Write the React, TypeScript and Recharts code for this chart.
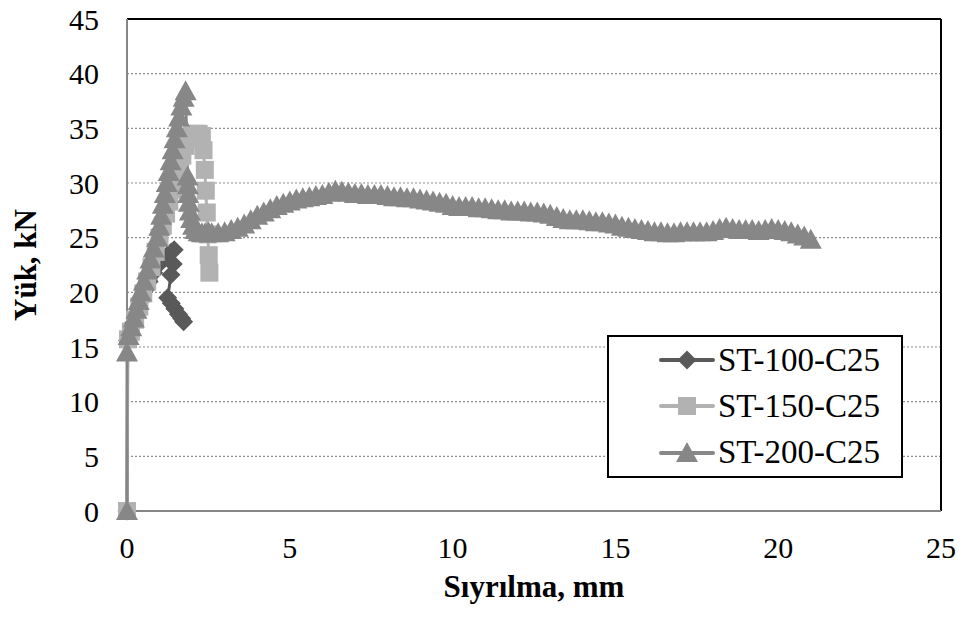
import React from "react";
import {
  LineChart,
  Line,
  XAxis,
  YAxis,
  CartesianGrid,
  Legend,
  ReferenceLine,
  Label,
} from "recharts";

const FONT = '"Liberation Serif", "Times New Roman", serif';

// ST-100-C25 (dark, diamonds)
const st100X = [0, 0.02, 0.1, 0.2, 0.3, 0.42, 0.55, 0.68, 0.82, 0.96, 1.1, 1.24, 1.36, 1.45, 1.42, 1.35, 1.25, 1.36, 1.47, 1.58, 1.68, 1.74];
const st100Y = [0, 15.6, 16.3, 17.2, 18.1, 19.2, 20.2, 21.0, 21.8, 22.5, 23.0, 23.4, 23.7, 23.9, 22.6, 21.6, 19.5, 19.0, 18.5, 18.0, 17.6, 17.3];

// ST-150-C25 (light, squares)
const st150X = [0, 0.03, 0.12, 0.25, 0.38, 0.5, 0.62, 0.75, 0.88, 1.0, 1.1, 1.2, 1.3, 1.4, 1.5, 1.6, 1.7, 1.8, 1.9, 2.0, 2.1, 2.2, 2.3, 2.35, 2.39, 2.42, 2.45, 2.48, 2.51, 2.53];
const st150Y = [0, 15.7, 16.4, 17.5, 18.7, 19.9, 21.0, 22.3, 23.7, 25.0, 26.1, 27.2, 28.3, 29.4, 30.5, 31.5, 32.5, 33.4, 34.1, 34.4, 34.5, 34.5, 34.3, 33.0, 31.2, 29.3, 27.3, 25.3, 23.4, 21.8];

// ST-200-C25 (medium, triangles): rise, drop after the peak, then the long plateau
const st200X = [
  0, 0, 0.05, 0.13, 0.21, 0.29, 0.36, 0.42, 0.52, 0.62, 0.72, 0.82, 0.93, 0.99, 1.05, 1.1, 1.16, 1.22, 1.28, 1.34, 1.4, 1.46, 1.53, 1.6, 1.67, 1.74, 1.8,
  1.86, 1.87, 1.88, 1.9, 1.93, 1.97, 2.03, 2.1, 2.2, 2.3, 2.4, 2.5,
  2.6, 2.8, 3.0, 3.2, 3.4, 3.6, 3.8, 4.0, 4.2, 4.4,
  4.6, 4.8, 5.0, 5.2, 5.4, 5.6, 5.8, 6.0, 6.2, 6.4,
  6.6, 6.8, 7.0, 7.2, 7.4, 7.6, 7.8, 8.0, 8.2, 8.4,
  8.6, 8.8, 9.0, 9.2, 9.4, 9.6, 9.8, 10.0, 10.2, 10.4,
  10.6, 10.8, 11.0, 11.2, 11.4, 11.6, 11.8, 12.0, 12.2, 12.4,
  12.6, 12.8, 13.0, 13.2, 13.4, 13.6, 13.8, 14.0, 14.2, 14.4,
  14.6, 14.8, 15.0, 15.2, 15.4, 15.6, 15.8, 16.0, 16.2, 16.4,
  16.6, 16.8, 17.0, 17.2, 17.4, 17.6, 17.8, 18.0, 18.2, 18.4,
  18.6, 18.8, 19.0, 19.2, 19.4, 19.6, 19.8, 20.0, 20.2, 20.4,
  20.6, 20.8, 21.0,
];
const st200Y = [
  0, 14.5, 16.0, 16.8, 17.6, 18.4, 19.2, 20.0, 21.0, 22.0, 23.0, 24.0, 25.0, 26.0, 27.0, 28.0, 29.0, 30.0, 31.0, 32.0, 33.0, 34.0, 35.0, 36.0, 37.0, 37.8, 38.4,
  30.6, 29.8, 29.0, 28.2, 27.4, 26.7, 26.1, 25.7, 25.5, 25.4, 25.4, 25.5,
  25.4, 25.4, 25.5, 25.7, 25.9, 26.2, 26.6, 27.0, 27.3, 27.6,
  27.9, 28.1, 28.3, 28.5, 28.6, 28.7, 28.8, 28.9, 29.1, 29.3,
  29.2, 29.1, 29.0, 29.0, 28.9, 28.9, 28.9, 28.8, 28.7, 28.7,
  28.6, 28.6, 28.5, 28.4, 28.3, 28.2, 28.1, 27.9, 27.8, 27.8,
  27.8, 27.7, 27.7, 27.6, 27.5, 27.5, 27.4, 27.4, 27.4, 27.3,
  27.3, 27.2, 27.1, 26.9, 26.7, 26.6, 26.6, 26.6, 26.5, 26.4,
  26.4, 26.3, 26.2, 26.0, 25.9, 25.8, 25.7, 25.6, 25.5, 25.5,
  25.4, 25.4, 25.5, 25.5, 25.5, 25.5, 25.5, 25.6, 25.8, 25.9,
  25.8, 25.7, 25.7, 25.7, 25.6, 25.7, 25.8, 25.7, 25.6, 25.5,
  25.3, 25.1, 24.8,
];

const xTicks = [0, 5, 10, 15, 20, 25];
const yTicks = [0, 5, 10, 15, 20, 25, 30, 35, 40, 45];

const toPoints = (xs: number[], ys: number[]) => xs.map((x, i) => ({ x, y: ys[i] }));

const SERIES = [
  { name: "ST-100-C25", color: "#595959", shape: "diamond", data: toPoints(st100X, st100Y) },
  { name: "ST-150-C25", color: "#b2b2b2", shape: "square", data: toPoints(st150X, st150Y) },
  { name: "ST-200-C25", color: "#878787", shape: "triangle", data: toPoints(st200X, st200Y) },
];

function Marker({ shape, cx, cy, fill }: { shape: string; cx: number; cy: number; fill: string }) {
  if (shape === "diamond") {
    const r = 9.5;
    return <path d={`M${cx},${cy - r}L${cx + r},${cy}L${cx},${cy + r}L${cx - r},${cy}Z`} fill={fill} />;
  }
  if (shape === "square") {
    const s = 18;
    return <rect x={cx - s / 2} y={cy - s / 2} width={s} height={s} fill={fill} />;
  }
  const w = 22;
  const h = 20;
  return (
    <path
      d={`M${cx},${cy - h * 0.55}L${cx + w / 2},${cy + h * 0.45}L${cx - w / 2},${cy + h * 0.45}Z`}
      fill={fill}
    />
  );
}

// serif tick labels, drawn explicitly so the font is certain
const XTick = ({ x, y, payload }: any) => (
  <text x={x} y={y} dy="0.71em" textAnchor="middle" fontFamily={FONT} fontSize={30} fill="#000">
    {payload.value}
  </text>
);

const YTick = ({ x, y, payload }: any) => (
  <text x={x} y={y} dy="0.355em" textAnchor="end" fontFamily={FONT} fontSize={30} fill="#000">
    {payload.value}
  </text>
);

const LegendBox = () => (
  <div
    style={{
      width: 296,
      height: 143,
      border: "2px solid #000",
      background: "#fff",
      boxSizing: "border-box",
      fontFamily: FONT,
      color: "#000",
    }}
  >
    {SERIES.map((s) => (
      <div key={s.name} style={{ display: "flex", alignItems: "center", height: 46.3 }}>
        <svg width={58} height={24} style={{ marginLeft: 49, display: "block" }}>
          <line x1={3} y1={12} x2={55} y2={12} stroke={s.color} strokeWidth={4} strokeLinecap="round" />
          <Marker shape={s.shape} cx={29} cy={12} fill={s.color} />
        </svg>
        <span style={{ fontSize: 33, lineHeight: 1, marginLeft: 2 }}>{s.name}</span>
      </div>
    ))}
  </div>
);

export default function App() {
  return (
    <div style={{ position: "absolute", left: 0, top: 0, background: "#fff", fontFamily: FONT }}>
      <LineChart
        width={963}
        height={617}
        margin={{ top: 19, right: 22, left: 0, bottom: 11 }}
        style={{ fontFamily: FONT }}
      >
        <CartesianGrid vertical={false} stroke="#8c8c8c" strokeDasharray="2 2" strokeWidth={1.2} />
        <XAxis
          type="number"
          dataKey="x"
          domain={[0, 25]}
          ticks={xTicks}
          height={95}
          tickLine={false}
          axisLine={{ stroke: "#868686", strokeWidth: 2 }}
          tickMargin={20}
          tick={<XTick />}
        >
          <Label
            content={(props: any) => {
              const vb = props.viewBox;
              return (
                <text
                  x={vb.x + vb.width / 2}
                  y={vb.y + 86}
                  textAnchor="middle"
                  fontFamily={FONT}
                  fontWeight="bold"
                  fontSize={31}
                  fill="#000"
                >
                  Sıyrılma, mm
                </text>
              );
            }}
          />
        </XAxis>
        <YAxis
          type="number"
          domain={[0, 45]}
          ticks={yTicks}
          width={127}
          tickLine={false}
          axisLine={{ stroke: "#868686", strokeWidth: 2 }}
          tickMargin={22}
          tick={<YTick />}
        >
          <Label
            content={(props: any) => {
              const vb = props.viewBox;
              const cx = 36;
              const cy = vb.y + vb.height / 2;
              return (
                <text
                  x={cx}
                  y={cy}
                  textAnchor="middle"
                  transform={`rotate(-90, ${cx}, ${cy})`}
                  fontFamily={FONT}
                  fontWeight="bold"
                  fontSize={31}
                  fill="#000"
                >
                  Yük, kN
                </text>
              );
            }}
          />
        </YAxis>
        <ReferenceLine y={45} stroke="#000" strokeWidth={2} />
        <ReferenceLine x={25} stroke="#000" strokeWidth={2} />
        {SERIES.map((s) => (
          <Line
            key={s.name}
            name={s.name}
            data={s.data}
            dataKey="y"
            type="linear"
            stroke={s.color}
            strokeWidth={3}
            isAnimationActive={false}
            activeDot={false}
            dot={(p: any) => <Marker key={`${s.name}-${p.index}`} shape={s.shape} cx={p.cx} cy={p.cy} fill={s.color} />}
          />
        ))}
        <Legend
          layout="vertical"
          align="center"
          verticalAlign="middle"
          wrapperStyle={{ left: 607, top: 335, width: 296, height: 143 }}
          content={() => <LegendBox />}
        />
      </LineChart>
    </div>
  );
}
